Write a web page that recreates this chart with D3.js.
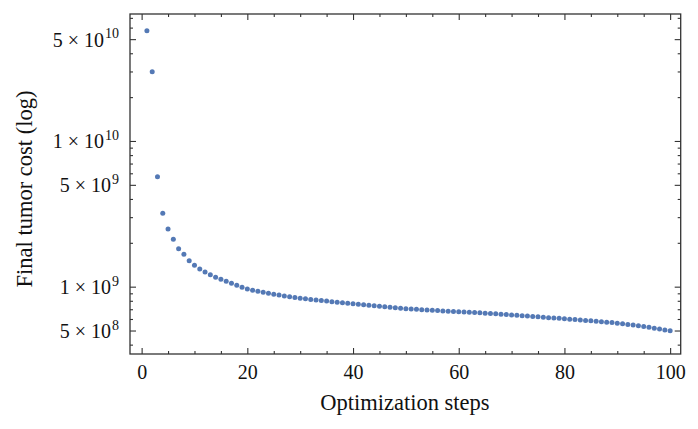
<!DOCTYPE html>
<html>
<head>
<meta charset="utf-8">
<script src="https://cdn.jsdelivr.net/npm/d3@7"></script>
<style>
  body { margin: 0; background: #fff; }
  svg text { font-family: "Liberation Serif", "DejaVu Serif", serif; fill: #111; }
</style>
</head>
<body>
<div id="chart"></div>
<script>
// Final tumor cost per optimization step
const steps = d3.range(1, 101);
const cost = [
  5.72e10, 2.99e10, 5.69e9, 3.19e9, 2.49e9, 2.115e9, 1.823e9, 1.669e9, 1.508e9, 1.402e9,
  1.323e9, 1.262e9, 1.209e9, 1.160e9, 1.124e9, 1.089e9, 1.055e9, 1.022e9, 9.91e8, 9.64e8,
  9.45e8, 9.30e8, 9.16e8, 9.01e8, 8.87e8, 8.75e8, 8.64e8, 8.53e8, 8.43e8, 8.34e8,
  8.26e8, 8.18e8, 8.11e8, 8.03e8, 7.96e8, 7.88e8, 7.82e8, 7.76e8, 7.70e8, 7.63e8,
  7.57e8, 7.51e8, 7.45e8, 7.39e8, 7.34e8, 7.28e8, 7.22e8, 7.16e8, 7.11e8, 7.05e8,
  7.02e8, 6.99e8, 6.95e8, 6.92e8, 6.89e8, 6.86e8, 6.82e8, 6.79e8, 6.76e8, 6.73e8,
  6.70e8, 6.67e8, 6.64e8, 6.61e8, 6.58e8, 6.54e8, 6.51e8, 6.47e8, 6.44e8, 6.39e8,
  6.36e8, 6.32e8, 6.29e8, 6.25e8, 6.21e8, 6.17e8, 6.13e8, 6.10e8, 6.06e8, 6.02e8,
  5.98e8, 5.94e8, 5.91e8, 5.86e8, 5.83e8, 5.79e8, 5.74e8, 5.70e8, 5.67e8, 5.61e8,
  5.56e8, 5.50e8, 5.45e8, 5.39e8, 5.33e8, 5.26e8, 5.19e8, 5.13e8, 5.05e8, 4.99e8
];
const xMajor = [0, 20, 40, 60, 80, 100];
const xMinor = d3.range(0, 101, 5).filter(v => v % 20 !== 0);
const yMajor = [5e8, 1e9, 5e9, 1e10, 5e10];
const yLabels = [[5, 8], [1, 9], [5, 9], [1, 10], [5, 10]];
const yMinor = [4e8, 6e8, 7e8, 8e8, 9e8, 2e9, 3e9, 4e9, 6e9, 7e9, 8e9, 9e9, 2e10, 3e10, 4e10, 6e10, 7e10];

const width = 698, height = 429;
const plotL = 130, plotR = 680.7, plotT = 14, plotB = 354;

const svg = d3.select('#chart').append('svg')
  .attr('width', width)
  .attr('height', height);

const x = d3.scaleLinear().domain([-2.2, 102]).range([plotL, plotR]);
const y = d3.scaleLog().domain([3.45e8, 7.44e10]).range([plotB, plotT]);

// tick helpers: inward ticks on every side
function styleAxis(g) {
  g.select('.domain').remove();
  g.selectAll('line').attr('stroke', '#333').attr('stroke-width', 1.1);
}

svg.append('g')
  .attr('transform', `translate(0,${plotB})`)
  .call(d3.axisBottom(x).tickValues(xMajor).tickSize(-6).tickPadding(11).tickFormat(d3.format('d')))
  .call(styleAxis)
  .call(g => g.selectAll('text').attr('font-size', 20).style('font-family', '"Liberation Serif", serif').attr('fill', '#111'));
svg.append('g')
  .attr('transform', `translate(0,${plotB})`)
  .call(d3.axisBottom(x).tickValues(xMinor).tickSize(-3).tickFormat(''))
  .call(styleAxis);
svg.append('g')
  .attr('transform', `translate(0,${plotT})`)
  .call(d3.axisTop(x).tickValues(xMajor).tickSize(-6).tickFormat(''))
  .call(styleAxis);
svg.append('g')
  .attr('transform', `translate(0,${plotT})`)
  .call(d3.axisTop(x).tickValues(xMinor).tickSize(-3).tickFormat(''))
  .call(styleAxis);

svg.append('g')
  .attr('transform', `translate(${plotL},0)`)
  .call(d3.axisLeft(y).tickValues(yMajor).tickSize(-6).tickFormat(''))
  .call(styleAxis);
svg.append('g')
  .attr('transform', `translate(${plotL},0)`)
  .call(d3.axisLeft(y).tickValues(yMinor).tickSize(-3).tickFormat(''))
  .call(styleAxis);
svg.append('g')
  .attr('transform', `translate(${plotR},0)`)
  .call(d3.axisRight(y).tickValues(yMajor).tickSize(-6).tickFormat(''))
  .call(styleAxis);
svg.append('g')
  .attr('transform', `translate(${plotR},0)`)
  .call(d3.axisRight(y).tickValues(yMinor).tickSize(-3).tickFormat(''))
  .call(styleAxis);

// y tick labels like "5 × 10^10"
const yl = svg.append('g');
yMajor.forEach((v, i) => {
  const t = yl.append('text')
    .attr('x', plotL - 11)
    .attr('y', y(v) + 7.5)
    .attr('text-anchor', 'end')
    .attr('font-size', 20);
  t.append('tspan').text(`${yLabels[i][0]} × 10`);
  t.append('tspan').attr('dx', 1).attr('dy', -8.5).attr('font-size', 14).text(yLabels[i][1]);
});

// frame
svg.append('rect')
  .attr('x', plotL).attr('y', plotT)
  .attr('width', plotR - plotL).attr('height', plotB - plotT)
  .attr('fill', 'none')
  .attr('stroke', '#333')
  .attr('stroke-width', 1.3);

// points
svg.append('g')
  .selectAll('circle')
  .data(steps)
  .enter()
  .append('circle')
  .attr('cx', d => x(d))
  .attr('cy', (d, i) => y(cost[i]))
  .attr('r', 2.5)
  .attr('fill', '#5479b5');

// axis titles
svg.append('text')
  .attr('x', (plotL + plotR) / 2 - 0.5)
  .attr('y', 410)
  .attr('text-anchor', 'middle')
  .attr('font-size', 22.5)
  .text('Optimization steps');

svg.append('text')
  .attr('transform', `translate(32,189) rotate(-90)`)
  .attr('text-anchor', 'middle')
  .attr('font-size', 22.5)
  .text('Final tumor cost (log)');
</script>
</body>
</html>
